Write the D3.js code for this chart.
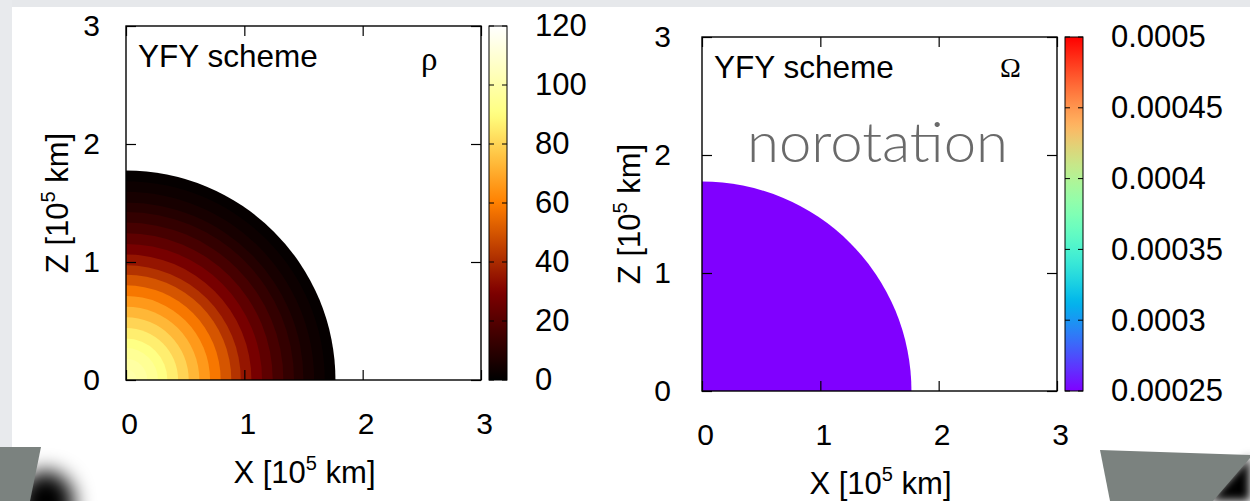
<!DOCTYPE html>
<html>
<head>
<meta charset="utf-8">
<script src="https://cdn.jsdelivr.net/npm/d3@7"></script>
<style>
  body { margin: 0; background: #fff; }
  svg { display: block; font-family: "Liberation Sans", Arial, Helvetica, sans-serif; }
</style>
</head>
<body>
<div id="chart"></div>
<script>
// axis ticks, units of 10^5 km
const axisTicks = [0, 1, 2, 3];
// inner radius of each contour ring, 10^5 km
const ringRadius = [0, 0.09, 0.18, 0.27, 0.35, 0.44, 0.53, 0.62, 0.71, 0.80,
                    0.89, 0.97, 1.06, 1.15, 1.24, 1.33, 1.42, 1.50, 1.59, 1.68];
const starRadius = 1.77;
// density in each ring
const rhoValues = [100, 98, 95, 91, 86, 80, 73, 66, 58, 50,
                   42, 35, 28, 22, 16.5, 12, 8.5, 5.5, 3, 1.2];
// angular velocity in each ring (no rotation)
const omegaValues = [0.00025, 0.00025, 0.00025, 0.00025, 0.00025, 0.00025, 0.00025, 0.00025, 0.00025, 0.00025,
                     0.00025, 0.00025, 0.00025, 0.00025, 0.00025, 0.00025, 0.00025, 0.00025, 0.00025, 0.00025];
// colorbar ticks
const rhoBarTicks = [0, 20, 40, 60, 80, 100, 120];
const rhoBarLabels = ["0", "20", "40", "60", "80", "100", "120"];
const omegaBarTicks = [0.00025, 0.0003, 0.00035, 0.0004, 0.00045, 0.0005];
const omegaBarLabels = ["0.00025", "0.0003", "0.00035", "0.0004", "0.00045", "0.0005"];

const width = 1250, height = 501;
const frameW = 355, frameH = 354;

// gnuplot style palettes
const clamp01 = v => Math.max(0, Math.min(1, v));
const afmhot = t => d3.rgb(255 * clamp01(2 * t), 255 * clamp01(2 * t - 0.5), 255 * clamp01(2 * t - 1)).toString();
const rainbow = t => d3.rgb(255 * Math.abs(2 * t - 0.5), 255 * clamp01(Math.sin(Math.PI * t)), 255 * clamp01(Math.cos(Math.PI * t / 2))).toString();

const svg = d3.select("#chart").append("svg")
    .attr("width", width)
    .attr("height", height);

const defs = svg.append("defs");
defs.append("filter").attr("id", "blur").attr("x", "-50%").attr("y", "-50%").attr("width", "200%").attr("height", "200%")
    .append("feGaussianBlur").attr("stdDeviation", 10);
defs.append("filter").attr("id", "blur2").attr("x", "-50%").attr("y", "-50%").attr("width", "200%").attr("height", "200%")
    .append("feGaussianBlur").attr("stdDeviation", 5);

// slide background bits
svg.append("rect").attr("x", 0).attr("y", 0).attr("width", width).attr("height", 7).attr("fill", "#e6e8eb");
svg.append("rect").attr("x", 0).attr("y", 0).attr("width", 12).attr("height", 450).attr("fill", "#e8eaed");
svg.append("ellipse").attr("cx", 46).attr("cy", 503).attr("rx", 28).attr("ry", 32)
    .attr("fill", "#000").attr("filter", "url(#blur)");
svg.append("polygon").attr("points", "0,447 41,447 30,501 0,501").attr("fill", "#7b827f");
svg.append("polygon").attr("points", "1250,456 1250,501 1208,501").attr("fill", "#000").attr("filter", "url(#blur2)");
svg.append("polygon").attr("points", "1100,450 1250,455 1250,458 1213,501 1110,501").attr("fill", "#7b827f");

function drawPanel(cfg) {
    const g = svg.append("g");
    const x = d3.scaleLinear().domain([0, 3]).range([cfg.left, cfg.left + frameW]);
    const y = d3.scaleLinear().domain([0, 3]).range([cfg.top + frameH, cfg.top]);

    const clipId = "clip-" + cfg.id;
    defs.append("clipPath").attr("id", clipId)
        .append("rect").attr("x", cfg.left).attr("y", cfg.top).attr("width", frameW).attr("height", frameH);

    // contour rings, drawn as filled quarter discs from outside in
    const rings = ringRadius.map((r, i) => ({
        r0: r,
        r1: i < ringRadius.length - 1 ? ringRadius[i + 1] : starRadius,
        v: cfg.values[i]
    }));
    const arc = d3.arc()
        .innerRadius(0)
        .outerRadius(d => x(d.r1) - x(0))
        .startAngle(0)
        .endAngle(Math.PI / 2);
    g.append("g")
        .attr("clip-path", `url(#${clipId})`)
        .append("g")
        .attr("transform", `translate(${x(0)},${y(0)})`)
        .selectAll("path")
        .data(rings.slice().reverse())
        .join("path")
        .attr("d", arc)
        .attr("fill", d => cfg.color(d.v));

    // ticks + labels
    const styleAxis = a => {
        a.select(".domain").remove();
        a.attr("font-size", null).attr("font-family", null);
        a.selectAll("line").attr("stroke", "#000").attr("stroke-width", 1.2);
        a.selectAll("text").attr("font-size", 30).attr("fill", "#000");
    };
    g.append("g").attr("transform", `translate(0,${y(0)})`)
        .call(d3.axisBottom(x).tickValues(axisTicks).tickSizeInner(-10).tickSizeOuter(0).tickPadding(33).tickFormat(d3.format("d")))
        .call(styleAxis)
        .selectAll("text").attr("dx", 3);
    g.append("g").attr("transform", `translate(${x(0)},0)`)
        .call(d3.axisLeft(y).tickValues(axisTicks).tickSizeInner(-10).tickSizeOuter(0).tickPadding(cfg.yTickPad).tickFormat(d3.format("d")))
        .call(styleAxis);
    g.append("g").attr("transform", `translate(0,${y(3)})`)
        .call(d3.axisTop(x).tickValues(axisTicks).tickSizeInner(-10).tickSizeOuter(0).tickFormat(""))
        .call(styleAxis);
    g.append("g").attr("transform", `translate(${x(3)},0)`)
        .call(d3.axisRight(y).tickValues(axisTicks).tickSizeInner(-10).tickSizeOuter(0).tickFormat(""))
        .call(styleAxis);

    g.append("rect")
        .attr("x", cfg.left).attr("y", cfg.top)
        .attr("width", frameW).attr("height", frameH)
        .attr("fill", "none").attr("stroke", "#000").attr("stroke-width", 1.4);

    // axis titles
    const xt = g.append("text")
        .attr("x", (x(0) + x(3)) / 2 + 1).attr("y", cfg.top + frameH + 103)
        .attr("text-anchor", "middle").attr("font-size", 31).attr("fill", "#000");
    xt.append("tspan").text("X [10");
    xt.append("tspan").attr("dy", -13).attr("font-size", 20).text("5");
    xt.append("tspan").attr("dy", 13).text(" km]");

    const yt = g.append("text")
        .attr("transform", `translate(${cfg.left - cfg.yTitleOff},${(y(0) + y(3)) / 2}) rotate(-90)`)
        .attr("text-anchor", "middle").attr("font-size", 31).attr("fill", "#000");
    yt.append("tspan").text("Z [10");
    yt.append("tspan").attr("dy", -13).attr("font-size", 20).text("5");
    yt.append("tspan").attr("dy", 13).text(" km]");

    // in-plot labels
    g.append("text")
        .attr("x", cfg.left + 12).attr("y", cfg.top + 41)
        .attr("font-size", 31.5).attr("fill", "#000")
        .text("YFY scheme");
    g.append("text")
        .attr("x", cfg.left + frameW - cfg.symbolOff).attr("y", cfg.top + cfg.symbolY)
        .attr("font-family", "'Liberation Serif', 'Times New Roman', serif")
        .attr("font-size", cfg.symbolSize).attr("fill", "#000")
        .text(cfg.symbol);

    // colorbar
    const barX = cfg.left + frameW + 8, barW = 18;
    const cb = d3.scaleLinear().domain(cfg.barDomain).range([cfg.top + frameH, cfg.top]);
    const gradId = "grad-" + cfg.id;
    const grad = defs.append("linearGradient").attr("id", gradId)
        .attr("x1", 0).attr("y1", 1).attr("x2", 0).attr("y2", 0);
    d3.range(0, 1.0001, 0.02).forEach(t => {
        grad.append("stop").attr("offset", t).attr("stop-color", cfg.color(cfg.barDomain[0] + t * (cfg.barDomain[1] - cfg.barDomain[0])));
    });
    g.append("rect")
        .attr("x", barX).attr("y", cfg.top).attr("width", barW).attr("height", frameH)
        .attr("fill", `url(#${gradId})`).attr("stroke", "#000").attr("stroke-width", 1);
    const tickG = g.append("g");
    tickG.selectAll("line.l").data(cfg.barTicks).join("line")
        .attr("x1", barX).attr("x2", barX + 5).attr("y1", d => cb(d)).attr("y2", d => cb(d))
        .attr("stroke", "#000").attr("stroke-width", 1);
    tickG.selectAll("line.r").data(cfg.barTicks).join("line")
        .attr("x1", barX + barW - 5).attr("x2", barX + barW).attr("y1", d => cb(d)).attr("y2", d => cb(d))
        .attr("stroke", "#000").attr("stroke-width", 1);
    g.append("g").attr("transform", `translate(${barX + barW},0)`)
        .call(d3.axisRight(cb).tickValues(cfg.barTicks).tickSize(0).tickPadding(28)
            .tickFormat((d, i) => cfg.barLabels[i]))
        .call(a => {
            a.select(".domain").remove();
            a.attr("font-size", null).attr("font-family", null);
            a.selectAll("text").attr("font-size", 31).attr("fill", "#000");
        });

    return { g, x, y };
}

const rhoColor = d3.scaleSequential(afmhot).domain([0, 120]).clamp(true);
const omegaColor = d3.scaleSequential(rainbow).domain([0.00025, 0.0005]).clamp(true);

drawPanel({
    id: "rho", left: 126, top: 26, values: rhoValues, color: rhoColor,
    yTickPad: 26, yTitleOff: 58, symbol: "ρ", symbolOff: 60, symbolY: 44, symbolSize: 33,
    barDomain: [0, 120], barTicks: rhoBarTicks, barLabels: rhoBarLabels
});

const right = drawPanel({
    id: "omega", left: 702, top: 37, values: omegaValues, color: omegaColor,
    yTickPad: 31, yTitleOff: 62, symbol: "Ω", symbolOff: 57, symbolY: 40, symbolSize: 28,
    barDomain: [0.00025, 0.0005], barTicks: omegaBarTicks, barLabels: omegaBarLabels
});

// overlay note on the right panel
right.g.append("text")
    .attr("x", 747).attr("y", 162)
    .attr("font-family", "Lato, 'Open Sans', sans-serif")
    .attr("font-weight", 300)
    .attr("font-size", 56)
    .attr("fill", "#6a6a6a")
    .attr("textLength", 261)
    .attr("lengthAdjust", "spacingAndGlyphs")
    .text("norotation");
</script>
</body>
</html>
